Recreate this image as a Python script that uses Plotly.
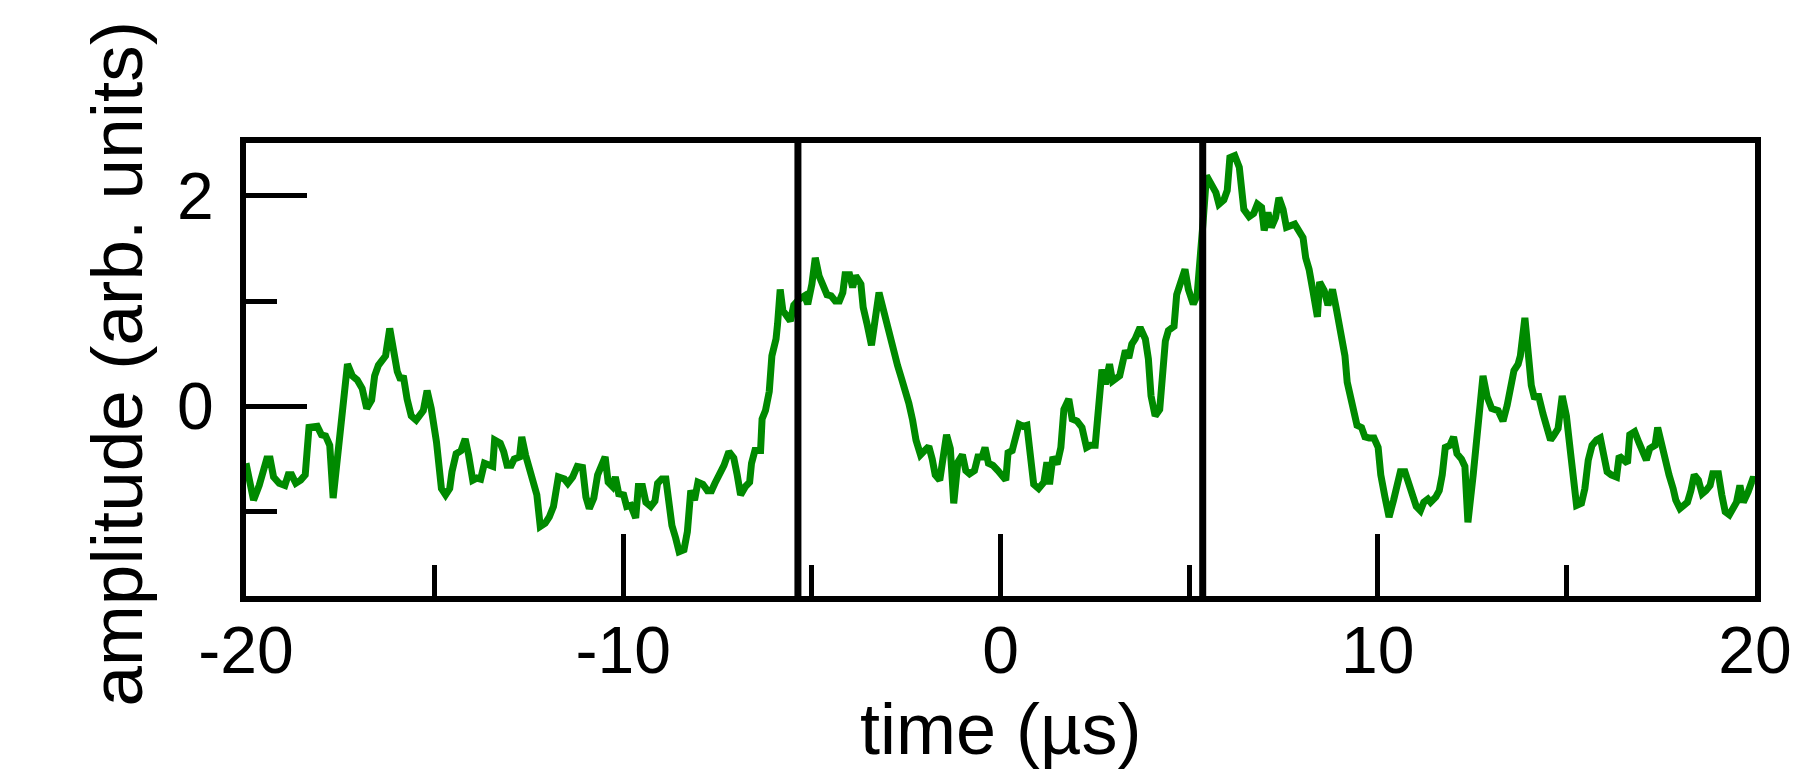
import plotly.graph_objects as go

# ---- data ----
time_us = [
    -20.0, -19.80, -19.65, -19.52, -19.45, -19.36, -19.27, -19.12, -18.97, -18.88,
    -18.79, -18.68, -18.55, -18.43, -18.33, -18.11, -18.00, -17.89, -17.78, -17.69,
    -17.58, -17.44, -17.31, -17.18, -17.05, -16.92, -16.80, -16.67, -16.59, -16.49,
    -16.39, -16.30, -16.19, -16.08, -15.99, -15.90, -15.83, -15.73, -15.62, -15.49,
    -15.30, -15.20, -15.09, -14.95, -14.82, -14.71, -14.60, -14.54, -14.43, -14.30,
    -14.19, -14.10, -13.99, -13.88, -13.78, -13.68, -13.57, -13.46, -13.41, -13.26,
    -13.17, -13.08, -12.97, -12.89, -12.75, -12.69, -12.59, -12.47, -12.36, -12.29,
    -12.20, -12.07, -11.96, -11.85, -11.72, -11.56, -11.47, -11.34, -11.22, -11.08,
    -10.99, -10.90, -10.78, -10.68, -10.48, -10.40, -10.29, -10.21, -10.12, -9.99,
    -9.91, -9.80, -9.67, -9.60, -9.49, -9.40, -9.27, -9.16, -9.09, -8.98,
    -8.87, -8.79, -8.71, -8.61, -8.52, -8.39, -8.30, -8.21, -8.11, -8.02,
    -7.89, -7.77, -7.66, -7.57, -7.45, -7.33, -7.20, -7.07, -6.98, -6.89,
    -6.76, -6.65, -6.60, -6.51, -6.36, -6.32, -6.23, -6.13, -6.06, -5.95,
    -5.91, -5.84, -5.77, -5.69, -5.57, -5.48, -5.33, -5.19, -5.11, -5.00,
    -4.91, -4.81, -4.69, -4.60, -4.49, -4.38, -4.27, -4.18, -4.12, -4.00,
    -3.92, -3.84, -3.70, -3.64, -3.53, -3.42, -3.22, -3.12, -3.02, -2.90,
    -2.81, -2.73, -2.62, -2.52, -2.43, -2.33, -2.24, -2.12, -2.01, -1.90,
    -1.81, -1.73, -1.61, -1.43, -1.33, -1.24, -1.13, -1.01, -0.92, -0.82,
    -0.69, -0.60, -0.49, -0.41, -0.32, -0.20, -0.07, 0.06, 0.14, 0.20,
    0.31, 0.49, 0.60, 0.70, 0.88, 1.01, 1.15, 1.23, 1.30, 1.39,
    1.50, 1.60, 1.68, 1.81, 1.90, 2.03, 2.16, 2.28, 2.38, 2.51,
    2.60, 2.69, 2.78, 2.89, 2.97, 3.16, 3.26, 3.31, 3.40, 3.48,
    3.57, 3.70, 3.84, 3.92, 3.99, 4.10, 4.22, 4.28, 4.37, 4.45,
    4.60, 4.67, 4.76, 4.89, 4.98, 5.11, 5.21, 5.28, 5.37, 5.46,
    5.59, 5.71, 5.79, 5.92, 6.01, 6.08, 6.21, 6.33, 6.45, 6.59,
    6.71, 6.81, 6.92, 6.99, 7.09, 7.18, 7.29, 7.38, 7.49, 7.58,
    7.80, 7.92, 8.02, 8.09, 8.18, 8.29, 8.40, 8.46, 8.58, 8.68,
    8.80, 8.90, 9.01, 9.13, 9.19, 9.28, 9.36, 9.45, 9.57, 9.66,
    9.77, 9.90, 10.01, 10.08, 10.19, 10.30, 10.42, 10.54, 10.60, 10.72,
    10.83, 10.94, 11.02, 11.13, 11.22, 11.33, 11.40, 11.54, 11.63, 11.71,
    11.79, 11.91, 12.01, 12.10, 12.22, 12.31, 12.39, 12.53, 12.64, 12.79,
    12.90, 13.02, 13.19, 13.32, 13.43, 13.52, 13.61, 13.72, 13.78, 13.90,
    13.98, 14.07, 14.16, 14.25, 14.38, 14.47, 14.58, 14.66, 14.78, 14.89,
    15.00, 15.13, 15.27, 15.40, 15.49, 15.58, 15.68, 15.80, 15.90, 15.99,
    16.08, 16.19, 16.33, 16.40, 16.50, 16.62, 16.68, 16.81, 16.93, 17.02,
    17.12, 17.21, 17.35, 17.42, 17.52, 17.61, 17.72, 17.83, 17.90, 18.01,
    18.12, 18.21, 18.30, 18.39, 18.50, 18.60, 18.70, 18.81, 18.88, 19.03,
    19.12, 19.21, 19.32, 19.42, 19.51, 19.60, 19.69, 19.82, 19.96, 20.0,
]

amplitude = [
    -0.54, -0.89, -0.75, -0.57, -0.50, -0.50, -0.67, -0.73, -0.75, -0.65,
    -0.65, -0.73, -0.70, -0.65, -0.20, -0.19, -0.27, -0.28, -0.37, -0.87,
    -0.53, -0.12, 0.40, 0.29, 0.25, 0.17, -0.02, 0.06, 0.29, 0.39,
    0.43, 0.48, 0.74, 0.51, 0.33, 0.25, 0.29, 0.07, -0.09, -0.13,
    -0.04, 0.15, -0.02, -0.34, -0.78, -0.84, -0.78, -0.62, -0.45, -0.42,
    -0.31, -0.46, -0.70, -0.68, -0.69, -0.54, -0.55, -0.57, -0.32, -0.35,
    -0.43, -0.56, -0.56, -0.50, -0.48, -0.29, -0.46, -0.62, -0.78, -0.84,
    -1.14, -1.11, -1.05, -0.95, -0.67, -0.69, -0.73, -0.67, -0.57, -0.58,
    -0.86, -0.97, -0.87, -0.65, -0.48, -0.72, -0.76, -0.67, -0.83, -0.84,
    -0.95, -0.94, -1.06, -0.76, -0.76, -0.91, -0.95, -0.90, -0.73, -0.69,
    -0.69, -0.97, -1.13, -1.25, -1.38, -1.36, -1.19, -0.80, -0.89, -0.72,
    -0.74, -0.80, -0.80, -0.73, -0.65, -0.56, -0.43, -0.49, -0.65, -0.84,
    -0.76, -0.72, -0.54, -0.42, -0.42, -0.12, -0.04, 0.14, 0.48, 0.64,
    0.78, 1.11, 0.91, 0.86, 0.81, 0.96, 1.02, 1.05, 0.97, 1.16,
    1.41, 1.24, 1.13, 1.06, 1.05, 1.00, 1.00, 1.08, 1.25, 1.25,
    1.13, 1.24, 1.16, 0.94, 0.77, 0.58, 1.08, 0.93, 0.78, 0.59,
    0.45, 0.39, 0.26, 0.15, 0.03, -0.13, -0.32, -0.46, -0.42, -0.38,
    -0.50, -0.65, -0.70, -0.27, -0.40, -0.92, -0.53, -0.46, -0.61, -0.64,
    -0.61, -0.48, -0.48, -0.39, -0.54, -0.56, -0.61, -0.67, -0.70, -0.44,
    -0.42, -0.17, -0.19, -0.18, -0.74, -0.78, -0.72, -0.53, -0.74, -0.48,
    -0.55, -0.39, -0.03, 0.07, -0.12, -0.14, -0.20, -0.39, -0.37, -0.37,
    0.01, 0.35, 0.21, 0.40, 0.24, 0.29, 0.45, 0.53, 0.46, 0.59,
    0.64, 0.75, 0.64, 0.45, 0.10, -0.09, -0.03, 0.18, 0.62, 0.72,
    0.76, 1.06, 1.14, 1.30, 1.11, 0.97, 1.05, 1.30, 1.75, 2.19,
    2.09, 2.03, 1.92, 1.96, 2.05, 2.36, 2.38, 2.27, 1.87, 1.80,
    1.83, 1.92, 1.89, 1.67, 1.84, 1.70, 1.79, 1.98, 1.87, 1.70,
    1.73, 1.67, 1.60, 1.41, 1.30, 1.08, 0.85, 1.18, 1.10, 0.96,
    1.11, 0.93, 0.70, 0.48, 0.23, 0.06, -0.02, -0.18, -0.20, -0.29,
    -0.30, -0.30, -0.39, -0.65, -0.86, -1.05, -0.89, -0.65, -0.62, -0.62,
    -0.76, -0.87, -0.95, -0.99, -0.91, -0.88, -0.91, -0.86, -0.80, -0.65,
    -0.39, -0.37, -0.29, -0.45, -0.50, -0.57, -1.10, -0.65, -0.21, 0.29,
    0.09, -0.02, -0.04, -0.14, 0.01, 0.23, 0.34, 0.40, 0.48, 0.84,
    0.48, 0.20, 0.07, 0.12, -0.07, -0.21, -0.32, -0.28, -0.21, 0.10,
    -0.09, -0.50, -0.94, -0.92, -0.78, -0.51, -0.37, -0.32, -0.30, -0.46,
    -0.62, -0.65, -0.67, -0.47, -0.50, -0.54, -0.27, -0.24, -0.35, -0.43,
    -0.51, -0.40, -0.37, -0.20, -0.37, -0.54, -0.65, -0.78, -0.89, -0.97,
    -0.94, -0.91, -0.80, -0.65, -0.70, -0.83, -0.80, -0.75, -0.64, -0.64,
    -0.84, -1.00, -1.03, -0.95, -0.91, -0.75, -0.91, -0.81, -0.67, -0.72,
]

boundaries = [-5.37, 5.36]

x_tick_vals = [-20, -10, 0, 10, 20]
x_tick_text = ["-20", "-10", "0", "10", "20"]
x_minor_vals = [-15, -5, 5, 15]
y_tick_vals = [-2, 0, 2]
y_tick_text = ["-2", "0", "2"]
y_minor_vals = [-1, 1]

x_range = [-20, 20]
y_range = [-1.8, 2.5]

FONT = "Liberation Sans, Arial, sans-serif"

fig = go.Figure()
fig.add_trace(go.Scatter(
    x=time_us, y=amplitude, mode="lines",
    line=dict(color="#008a00", width=7),
    showlegend=False, hoverinfo="skip",
))

for b in boundaries:
    fig.add_shape(type="line", xref="x", yref="paper", x0=b, x1=b, y0=0, y1=1,
                  line=dict(color="black", width=7), layer="above")

axis_common = dict(
    showgrid=False, zeroline=False, showline=True, linecolor="black",
    linewidth=6, mirror=True, ticks="inside", tickcolor="black",
    tickwidth=5,
    tickfont=dict(family=FONT, size=66, color="black"),
)

fig.update_xaxes(
    range=x_range, tickmode="array", tickvals=x_tick_vals, ticktext=x_tick_text,
    ticklen=62, ticklabelstandoff=-8,
    minor=dict(tickmode="array", tickvals=x_minor_vals, ticks="inside",
               ticklen=31, tickwidth=5, tickcolor="black", showgrid=False),
    **axis_common,
)
fig.update_yaxes(
    range=y_range, tickmode="array", tickvals=y_tick_vals, ticktext=y_tick_text,
    ticklen=61, ticklabelstandoff=13,
    minor=dict(tickmode="array", tickvals=y_minor_vals, ticks="inside",
               ticklen=31, tickwidth=5, tickcolor="black", showgrid=False),
    **axis_common,
)

fig.add_annotation(text="time (µs)", xref="paper", yref="paper", x=0.5, y=-0.294,
                   xanchor="center", yanchor="middle", showarrow=False,
                   font=dict(family=FONT, size=72, color="black"))
fig.add_annotation(text="amplitude (arb. units)", xref="paper", yref="paper",
                   x=-0.0858, y=0.512, textangle=-90,
                   xanchor="center", yanchor="middle", showarrow=False,
                   font=dict(family=FONT, size=73, color="black"))

fig.update_layout(
    width=1809, height=770,
    margin=dict(l=238, r=62, t=135, b=182),
    paper_bgcolor="white", plot_bgcolor="white",
)

fig.write_html("out.html")
